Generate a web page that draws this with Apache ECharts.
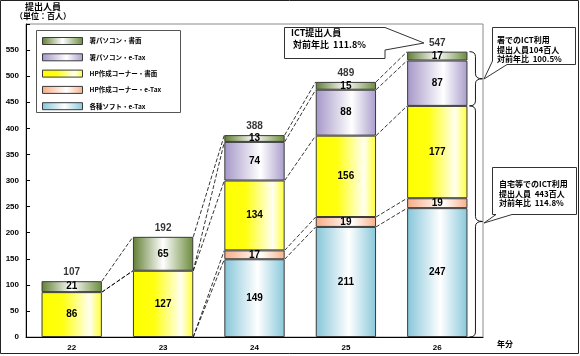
<!DOCTYPE html>
<html><head><meta charset="utf-8">
<script src="https://cdn.jsdelivr.net/npm/echarts@6/dist/echarts.min.js"></script>
<style>html,body{margin:0;padding:0;background:#fff}#c{width:580px;height:356px}</style>
</head><body><div id="c"></div>
<script>
// ---- data ----
const categories = ['22', '23', '24', '25', '26'];
const seriesNames = ['署パソコン・書面', '署パソコン・e-Tax', 'HP作成コーナー・書面', 'HP作成コーナー・e-Tax', '各種ソフト・e-Tax'];
const shoPcForm = [21, 65, 13, 15, 17];      // 署パソコン・書面
const shoPcETax = [0, 0, 74, 88, 87];        // 署パソコン・e-Tax
const hpForm = [86, 127, 134, 156, 177];     // HP作成コーナー・書面
const hpETax = [0, 0, 17, 19, 19];           // HP作成コーナー・e-Tax
const softETax = [0, 0, 149, 211, 247];      // 各種ソフト・e-Tax
const totals = [107, 192, 388, 489, 547];
const yTicks = [0, 50, 100, 150, 200, 250, 300, 350, 400, 450, 500, 550];
const braceUpper = [443, 547];
const braceLower = [0, 443];
const noteTotal = ['ICT提出人員', '対前年比  111.8%'];
const noteOffice = ['署でのICT利用', '提出人員104百人', '対前年比  100.5%'];
const noteHome = ['自宅等でのICT利用', '提出人員  443百人', '対前年比  114.8%'];

// ---- styling ----
const NUMF = '"Liberation Sans","Noto Sans CJK JP",sans-serif';
const JF = '"Noto Sans CJK JP",sans-serif';
const CAT_GAP = 0.34;
function grad(stops) {
  return { type: 'linear', x: 0, y: 0, x2: 1, y2: 0,
    colorStops: stops.map(s => ({ offset: s[0], color: s[1] })) };
}
const colors = {
  shoPcForm: grad([[0, '#627f34'], [0.5, '#ffffff'], [1, '#6b8b3c']]),
  shoPcETax: grad([[0, '#a597c8'], [0.6, '#ffffff'], [1, '#a99dcb']]),
  hpForm: grad([[0, '#ffff00'], [0.35, '#ffff10'], [0.8, '#fffff2'], [1, '#ffff30']]),
  hpETax: grad([[0, '#f8ac84'], [0.6, '#ffffff'], [1, '#f8b08a']]),
  softETax: grad([[0, '#86c6d9'], [0.55, '#ffffff'], [1, '#88c8da']])
};

const stackOrder = [
  { name: seriesNames[4], data: softETax, color: colors.softETax },
  { name: seriesNames[3], data: hpETax, color: colors.hpETax },
  { name: seriesNames[2], data: hpForm, color: colors.hpForm },
  { name: seriesNames[1], data: shoPcETax, color: colors.shoPcETax },
  { name: seriesNames[0], data: shoPcForm, color: colors.shoPcForm }
];

// cumulative boundaries for dashed connectors
const connectorData = [];
for (let i = 0; i < categories.length - 1; i++) {
  let ca = 0, cb = 0;
  stackOrder.forEach(s => {
    ca += s.data[i]; cb += s.data[i + 1];
    if (ca !== 0 || cb !== 0) connectorData.push([i, ca, cb]);
  });
}

const barSeries = stackOrder.map(s => ({
  name: s.name, type: 'bar', stack: 'total', barCategoryGap: (CAT_GAP * 100) + '%',
  data: s.data.map(v => v === 0 ? '-' : v),
  itemStyle: { color: s.color, borderColor: '#3a3a3a', borderWidth: 1 },
  label: { show: true, position: 'inside', color: '#000', fontSize: 10, fontWeight: 'bold', fontFamily: NUMF,
    formatter: p => (p.value ? p.value : '') },
  silent: true, z: 3
}));

const chart = echarts.init(document.getElementById('c'));
chart.setOption({
  animation: false,
  grid: { left: 26, right: 97, top: 24, bottom: 19, show: true, borderColor: '#8a8a8a', borderWidth: 1 },
  legend: {
    data: seriesNames, orient: 'vertical', left: 42, top: 37, padding: 0,
    itemWidth: 40, itemHeight: 7, itemGap: 8.3, icon: 'rect', selectedMode: false,
    itemStyle: { borderColor: '#3a3a3a', borderWidth: 1 },
    textStyle: { fontSize: 6.5, fontWeight: 'bold', fontFamily: JF, color: '#000', lineHeight: 7, padding: [0, 0, 0, 2] }
  },
  xAxis: {
    type: 'category', data: categories,
    axisLine: { lineStyle: { color: '#000', width: 1 } },
    axisTick: { inside: true, length: 4, lineStyle: { color: '#000' } },
    axisLabel: { color: '#000', fontSize: 8, fontWeight: 'bold', fontFamily: NUMF, margin: 7 }
  },
  yAxis: {
    type: 'value', min: 0, max: 600, interval: 50,
    axisLine: { show: true, lineStyle: { color: '#000', width: 1 } },
    axisTick: { show: true, inside: true, length: 4, lineStyle: { color: '#000' } },
    splitLine: { show: false },
    axisLabel: { color: '#000', fontSize: 8, fontWeight: 'bold', fontFamily: NUMF, margin: 7,
      formatter: v => (yTicks.indexOf(v) >= 0 ? String(v) : '') }
  },
  series: barSeries.concat([
    {
      type: 'custom', name: 'connectors', silent: true, z: 2,
      data: connectorData, encode: { x: 0, y: [1, 2] },
      renderItem: (params, api) => {
        const i = api.value(0), a = api.value(1), b = api.value(2);
        const p1 = api.coord([i, a]), p2 = api.coord([i + 1, b]);
        const half = api.size([1, 0])[0] * (1 - CAT_GAP) / 2;
        return { type: 'line', shape: { x1: p1[0] + half, y1: p1[1], x2: p2[0] - half, y2: p2[1] },
          style: { stroke: '#000', lineWidth: 0.8, lineDash: [4, 2] } };
      }
    },
    {
      type: 'custom', name: 'braces', silent: true, z: 2,
      data: [[categories.length - 1, braceUpper[0], braceUpper[1]], [categories.length - 1, braceLower[0], braceLower[1]]],
      encode: { x: 0, y: [1, 2] },
      renderItem: (params, api) => {
        const i = api.value(0);
        const pb = api.coord([i, api.value(1)]), pt = api.coord([i, api.value(2)]);
        const half = api.size([1, 0])[0] * (1 - CAT_GAP) / 2;
        const x0 = pb[0] + half + 2, x1 = x0 + 6, xt = x0 + 13;
        const yT = pt[1], yB = pb[1], yM = (yT + yB) / 2, r = 5;
        const d = `M${x0} ${yT} Q${x1} ${yT} ${x1} ${yT + r} L${x1} ${yM - r} Q${x1} ${yM} ${xt} ${yM} ` +
          `Q${x1} ${yM} ${x1} ${yM + r} L${x1} ${yB - r} Q${x1} ${yB} ${x0} ${yB}`;
        return { type: 'path', shape: { pathData: d }, style: { stroke: '#000', fill: null, lineWidth: 0.9 } };
      }
    },
    {
      type: 'scatter', name: 'totals', silent: true, symbolSize: 1,
      itemStyle: { color: 'rgba(0,0,0,0)' },
      data: totals.map((v, i) => [i, v]),
      label: { show: true, position: 'top', distance: 3, color: '#000', fontSize: 10, fontWeight: 'bold', fontFamily: NUMF,
        formatter: p => String(p.value[1]) }
    }
  ]),
  graphic: [
    { type: 'rect', shape: { x: 0.5, y: 0.5, width: 578, height: 353 }, style: { fill: null, stroke: '#222', lineWidth: 1 }, silent: true },
    { type: 'rect', shape: { x: 36.5, y: 30.5, width: 144, height: 82 }, style: { fill: null, stroke: '#555', lineWidth: 1 }, silent: true },
    { type: 'text', left: 25, top: 2, style: { text: '提出人員', fontSize: 9, fontWeight: 'bold', fontFamily: JF, fill: '#000' } },
    { type: 'text', left: 15, top: 12, style: { text: '（単位：百人）', fontSize: 8, fontWeight: 'bold', fontFamily: JF, fill: '#000' } },
    { type: 'text', left: 497, top: 340, style: { text: '年分', fontSize: 8, fontWeight: 'bold', fontFamily: JF, fill: '#000' } },
    // callout: total
    { type: 'polygon', z: 10, shape: { points: [[284.5, 27.5], [385, 27.5], [424, 43], [385, 50], [385, 58.5], [284.5, 58.5]] },
      style: { fill: '#fff', stroke: '#333', lineWidth: 1 }, silent: true },
    { type: 'text', z: 11, x: 291, y: 32.5, style: { text: noteTotal[0], fontSize: 9, fontWeight: 'bold', fontFamily: JF, fill: '#000', verticalAlign: 'middle' } },
    { type: 'text', z: 11, x: 293, y: 45, style: { text: noteTotal[1], fontSize: 9, fontWeight: 'bold', fontFamily: JF, fill: '#000', verticalAlign: 'middle' } },
    // callout: office
    { type: 'polygon', z: 10, shape: { points: [[492.5, 27.5], [575.5, 27.5], [575.5, 64.5], [507, 64.5], [484, 79], [492.5, 61]] },
      style: { fill: '#fff', stroke: '#333', lineWidth: 1 }, silent: true },
    { type: 'text', z: 11, x: 497, y: 40, style: { text: noteOffice[0], fontSize: 8, fontWeight: 'bold', fontFamily: JF, fill: '#000', verticalAlign: 'middle' } },
    { type: 'text', z: 11, x: 497, y: 49.5, style: { text: noteOffice[1], fontSize: 8, fontWeight: 'bold', fontFamily: JF, fill: '#000', verticalAlign: 'middle' } },
    { type: 'text', z: 11, x: 497, y: 59, style: { text: noteOffice[2], fontSize: 8, fontWeight: 'bold', fontFamily: JF, fill: '#000', verticalAlign: 'middle' } },
    // callout: home
    { type: 'polygon', z: 10, shape: { points: [[492.5, 167.5], [576.5, 167.5], [576.5, 214.5], [512, 214.5], [484, 223], [496, 214.5], [492.5, 214.5]] },
      style: { fill: '#fff', stroke: '#333', lineWidth: 1 }, silent: true },
    { type: 'text', z: 11, x: 499, y: 184, style: { text: noteHome[0], fontSize: 8, fontWeight: 'bold', fontFamily: JF, fill: '#000', verticalAlign: 'middle' } },
    { type: 'text', z: 11, x: 499, y: 193.5, style: { text: noteHome[1], fontSize: 8, fontWeight: 'bold', fontFamily: JF, fill: '#000', verticalAlign: 'middle' } },
    { type: 'text', z: 11, x: 499, y: 203, style: { text: noteHome[2], fontSize: 8, fontWeight: 'bold', fontFamily: JF, fill: '#000', verticalAlign: 'middle' } }
  ]
});
</script>
</body></html>
